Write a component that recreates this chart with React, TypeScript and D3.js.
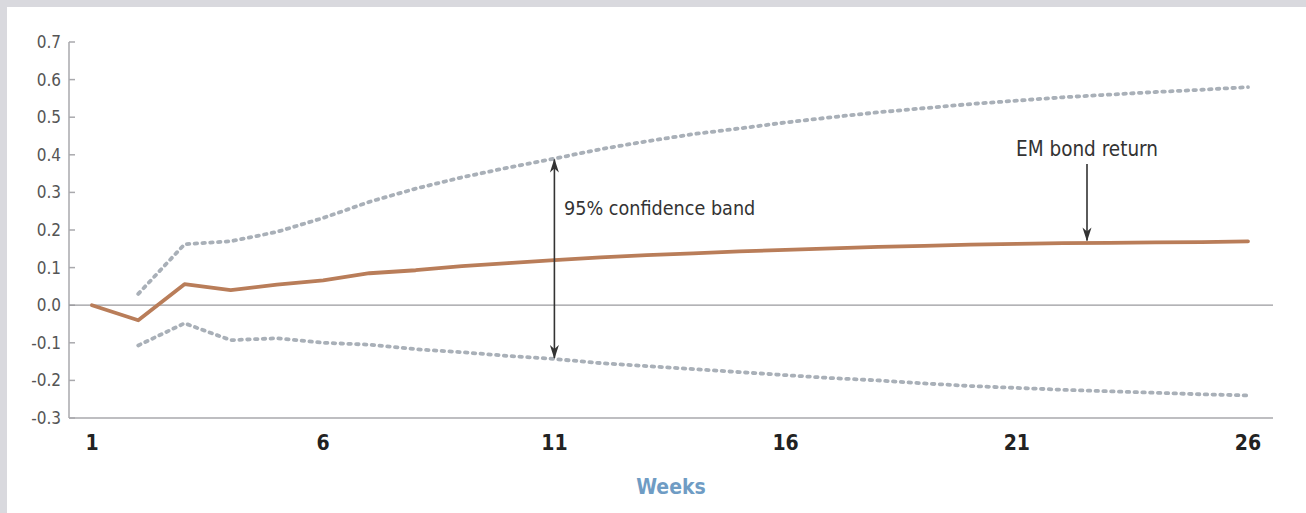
import React from "react";
import * as d3 from "d3";

const weeks = d3.range(1, 27);
const emReturn = [0, -0.04, 0.056, 0.04, 0.055, 0.066, 0.085, 0.093, 0.104, 0.112, 0.12, 0.127, 0.133, 0.138, 0.143, 0.147, 0.151, 0.155, 0.158, 0.161, 0.163, 0.165, 0.166, 0.167, 0.168, 0.17];
const upperBand = [null, 0.03, 0.162, 0.17, 0.195, 0.232, 0.275, 0.31, 0.34, 0.366, 0.39, 0.415, 0.436, 0.455, 0.47, 0.486, 0.5, 0.513, 0.524, 0.535, 0.544, 0.553, 0.56, 0.567, 0.573, 0.58];
const lowerBand = [null, -0.107, -0.048, -0.093, -0.088, -0.1, -0.105, -0.117, -0.125, -0.135, -0.143, -0.154, -0.162, -0.17, -0.178, -0.186, -0.194, -0.2, -0.208, -0.215, -0.22, -0.225, -0.229, -0.233, -0.237, -0.24];
const yTicks = [0.7, 0.6, 0.5, 0.4, 0.3, 0.2, 0.1, 0.0, -0.1, -0.2, -0.3];
const xTicks = [1, 6, 11, 16, 21, 26];

const W = 1306, H = 513;
const FONT = "'DejaVu Sans Condensed', 'Liberation Sans Narrow', sans-serif";

export default function App() {
  const x = d3.scaleLinear().domain([1, 26]).range([92, 1248]);
  const y = d3.scaleLinear().domain([-0.3, 0.7]).range([418, 42]);
  const axisLeft = 69, axisRight = 1273;

  const lineGen = d3.line<number | null>()
    .defined((d) => d !== null)
    .x((_, i) => x(weeks[i]))
    .y((d) => y(d as number));

  const bandStyle = { fill: "none", stroke: "#a9b0b8", strokeWidth: 3.8, strokeDasharray: "2.5 5.3", strokeLinecap: "round" as const };

  const ciX = x(11);
  const ciTop = y(upperBand[10] as number);
  const ciBot = y(lowerBand[10] as number);
  const emX = 1087;
  const emTop = 164;
  const emBot = y(0.167) - 2;
  const fmt = (t: number) => d3.format(".1f")(t).replace("\u2212", "-");

  return (
    <svg width={W} height={H} style={{ position: "absolute", left: 0, top: 0, display: "block" }}>
      <defs>
        <marker id="ah" viewBox="0 0 14 10" refX="13" refY="5" markerWidth="14" markerHeight="10" markerUnits="userSpaceOnUse" orient="auto-start-reverse">
          <path d="M0,0.5 L14,5 L0,9.5 L4,5 Z" fill="#333" />
        </marker>
      </defs>
      <rect x={0} y={0} width={W} height={H} fill="#d9d9de" />
      <rect x={7} y={7} width={W - 7} height={H - 7} fill="#ffffff" />

      {/* y axis */}
      <line x1={axisLeft} x2={axisLeft} y1={y(0.7)} y2={y(-0.3)} stroke="#a9a9ad" strokeWidth={1.5} />
      {yTicks.map((t) => (
        <g key={t}>
          <line x1={axisLeft} x2={axisLeft + 6} y1={y(t)} y2={y(t)} stroke="#a9a9ad" strokeWidth={1.5} />
          <text x={61} y={y(t) + 6} textAnchor="end" fontFamily={FONT} fontSize={17} fill="#555">
            {fmt(t)}
          </text>
        </g>
      ))}
      {/* x axis and zero line */}
      <line x1={axisLeft} x2={axisRight} y1={y(-0.3)} y2={y(-0.3)} stroke="#a9a9ad" strokeWidth={1.5} />
      <line x1={axisLeft} x2={axisRight} y1={y(0)} y2={y(0)} stroke="#9a9a9e" strokeWidth={1.3} />
      {xTicks.map((t) => (
        <text key={t} x={x(t)} y={450} textAnchor="middle" fontFamily={FONT} fontWeight="bold" fontSize={21} fill="#222">
          {t}
        </text>
      ))}
      <text x={671} y={494} textAnchor="middle" fontFamily={FONT} fontWeight="bold" fontSize={21} fill="#6f9cc4">
        Weeks
      </text>

      {/* bands */}
      <path d={lineGen(upperBand) || ""} {...bandStyle} />
      <path d={lineGen(lowerBand) || ""} {...bandStyle} />
      {/* main line */}
      <path d={lineGen(emReturn) || ""} fill="none" stroke="#b97d59" strokeWidth={3.8} strokeLinejoin="round" strokeLinecap="round" />

      {/* annotations */}
      <line x1={ciX} x2={ciX} y1={ciTop + 1} y2={ciBot - 1} stroke="#333" strokeWidth={1.6} markerStart="url(#ah)" markerEnd="url(#ah)" />
      <text x={564} y={215} fontFamily={FONT} fontSize={19.6} fill="#333">95% confidence band</text>
      <line x1={emX} x2={emX} y1={emTop} y2={emBot} stroke="#333" strokeWidth={1.6} markerEnd="url(#ah)" />
      <text x={emX} y={156} textAnchor="middle" fontFamily={FONT} fontSize={20.5} fill="#333">EM bond return</text>
    </svg>
  );
}
